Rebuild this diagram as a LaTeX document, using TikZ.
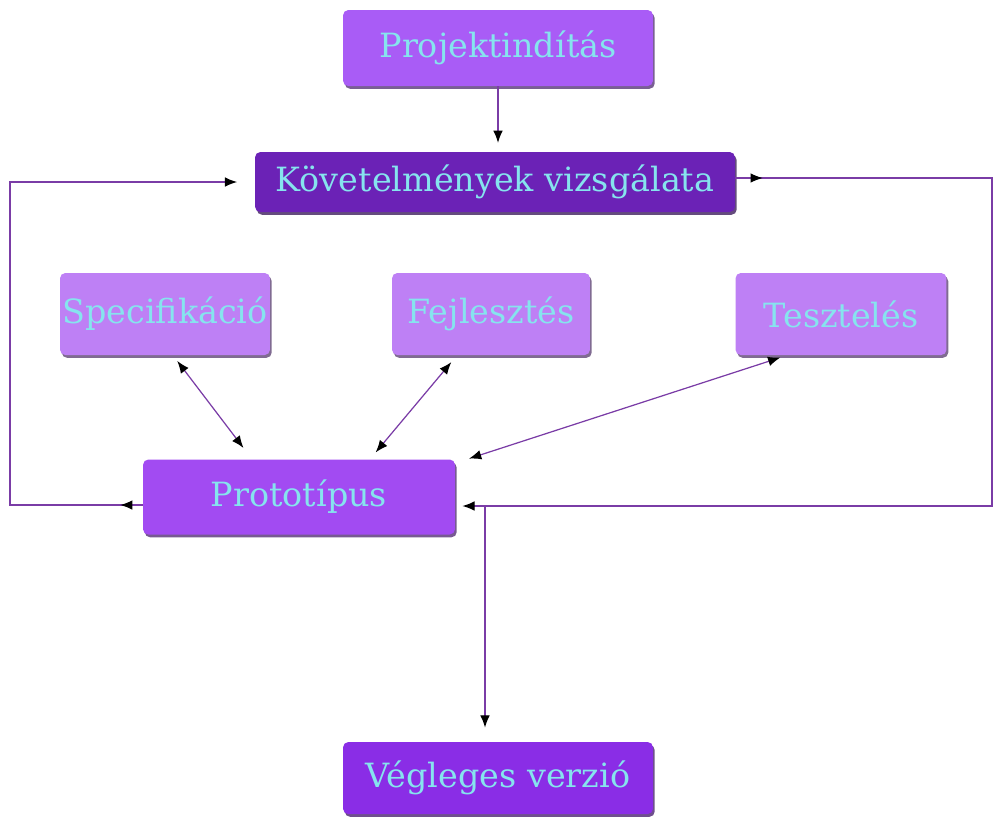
\documentclass[tikz,border=0pt]{standalone}
\usepackage{fontspec}
\setmainfont{DejaVu Serif}
\usetikzlibrary{arrows.meta,decorations.markings,shadows}
\definecolor{startviolet}{HTML}{A95CF6}
\definecolor{reqviolet}{HTML}{6B22B6}
\definecolor{taskviolet}{HTML}{BE80F5}
\definecolor{protoviolet}{HTML}{A24BF2}
\definecolor{finalviolet}{HTML}{8A2DE6}
\definecolor{labelcyan}{HTML}{86E4EE}
\definecolor{linkviolet}{HTML}{7A3CA6}

\begin{document}
\begin{tikzpicture}[x=0.02cm,y=-0.02cm,
    box/.style={rounded corners=3pt, inner sep=0pt, fill=#1, text=labelcyan,
        font=\fontsize{19}{22}\selectfont,
        drop shadow={shadow xshift=1pt, shadow yshift=-1.6pt, opacity=0.75, fill=#1!45!black}},
    link/.style={draw=linkviolet, line width=0.7pt},
    tip/.style={-{Latex[color=black,length=7pt,width=5.5pt]}},
    dbl/.style={{Latex[color=black,length=7pt,width=5.5pt]}-{Latex[color=black,length=7pt,width=5.5pt]}},
    backtip/.style={postaction={decorate}, decoration={markings,
        mark=at position #1 with {\arrow{Latex[color=black,length=7pt,width=5.5pt]}}}}]
\useasboundingbox (0,0) rectangle (993,816);

% Boxes
\node[box=startviolet, minimum width=6.2cm, minimum height=1.52cm] (proj) at (498,48) {Projektindítás};
\node[box=reqviolet, minimum width=9.6cm, minimum height=1.2cm] (req) at (495,182) {Követelmények vizsgálata};
\foreach \name/\x/\w/\txt in {spec/165/4.2/Specifikáció, dev/491/3.96/Fejlesztés, test/841/4.22/Tesztelés}
    \node[box=taskviolet, minimum width=\w cm, minimum height=1.64cm] (\name) at (\x,314) {\txt};
\node[box=protoviolet, minimum width=6.24cm, minimum height=1.5cm] (proto) at (299,497) {Prototípus};
\node[box=finalviolet, minimum width=6.2cm, minimum height=1.44cm] (final) at (498,778) {Végleges verzió};

% Corners of the loops
\coordinate (lbend) at (10,0);
\coordinate (rbend) at (992,0);
\coordinate (split) at (485,506);

% Start to requirements
\draw[link,tip,shorten >=5pt] (proj.south) -- (proj.south |- req.north);

% Left loop: prototype back to requirements
\draw[link,tip,shorten >=10pt,backtip=0.45cm]
    ([yshift=-0.16cm]proto.west) -- ([yshift=-0.16cm]proto.west -| lbend) |- (req.west);

% Right loop: requirements round to prototype
\draw[link,tip,shorten >=4pt,backtip=0.55cm]
    ([yshift=0.08cm]req.east) -- ([yshift=0.08cm]req.east -| rbend) |- ([yshift=-0.18cm]proto.east);

% Prototype to final version
\draw[link,tip,shorten >=8pt] (split) -- (split |- final.north);

% Tasks and prototype
\draw[link,dbl,shorten <=4pt,shorten >=8pt] ([xshift=0.16cm]spec.south) -- ([xshift=-0.94cm]proto.north);
\draw[link,dbl,shorten <=5pt,shorten >=5pt] ([xshift=-0.68cm]dev.south) -- ([xshift=1.42cm]proto.north);
\draw[link,dbl,shorten <=4pt,shorten >=1pt] ([xshift=-1.08cm]test.south) -- ([xshift=0.24cm]proto.north east);
\end{tikzpicture}
\end{document}
